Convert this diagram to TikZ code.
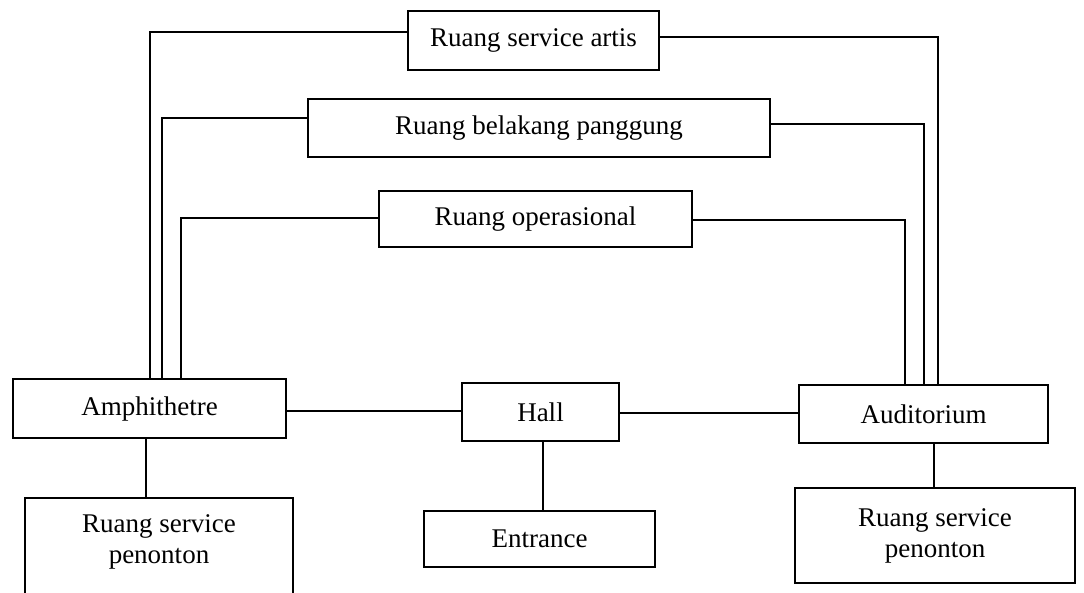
\documentclass[tikz,border=0pt]{standalone}
\usepackage{fontspec}
\setmainfont{Liberation Serif}
\begin{document}
\begin{tikzpicture}[x=1pt,y=-1pt,
  box/.style={draw, rectangle, line width=1.3pt, inner sep=0pt, font=\fontsize{27}{31}\selectfont, align=center},
  lbl/.style={inner sep=0pt, font=\fontsize{27}{31}\selectfont, align=center},
  link/.style={draw, line width=1.3pt}]
\fill[white] (0,0) rectangle (1084,592);
\useasboundingbox (0,0) rectangle (1084,592);

\node[box, minimum width=251pt, minimum height=59pt] (artis) at (533.5,40.5) {Ruang service artis};
\node[box, minimum width=462pt, minimum height=58pt] (belakang) at (539,128) {Ruang belakang panggung};
\node[box, minimum width=313pt, minimum height=56pt] (oper) at (535.5,219) {Ruang operasional};
\node[box, minimum width=273pt, minimum height=59pt] (amph) at (149.5,408.5) {Amphithetre};
\node[box, minimum width=157pt, minimum height=58pt] (hall) at (540.5,412) {Hall};
\node[box, minimum width=249pt, minimum height=58pt] (aud) at (923.5,414) {Auditorium};
\node[box, minimum width=268pt, minimum height=142pt] (rspL) at (159,569) {};
\node[lbl] (rspLtxt) at (159,542) {Ruang service\\penonton};
\node[box, minimum width=231pt, minimum height=56pt] (entr) at (539.5,539) {Entrance};
\node[box, minimum width=280pt, minimum height=95pt] (rspR) at (935,535.5) {Ruang service\\penonton};

\path[link] (artis.west |- 0,32) -| (amph.north -| 150,0);
\path[link] (artis.east |- 0,37) -| (aud.north -| 938,0);
\path[link] (belakang.west |- 0,118) -| (amph.north -| 162,0);
\path[link] (belakang.east |- 0,124) -| (aud.north -| 924,0);
\path[link] (oper.west |- 0,218) -| (amph.north -| 181,0);
\path[link] (oper.east |- 0,220) -| (aud.north -| 905,0);
\path[link] (amph.east |- 0,411) -- (hall.west |- 0,411);
\path[link] (hall.east |- 0,413) -- (aud.west |- 0,413);
\path[link] (hall.south -| 543,0) -- (entr.north -| 543,0);
\path[link] (amph.south -| 146,0) -- (rspL.north -| 146,0);
\path[link] (aud.south -| 934,0) -- (rspR.north -| 934,0);
\end{tikzpicture}
\end{document}
